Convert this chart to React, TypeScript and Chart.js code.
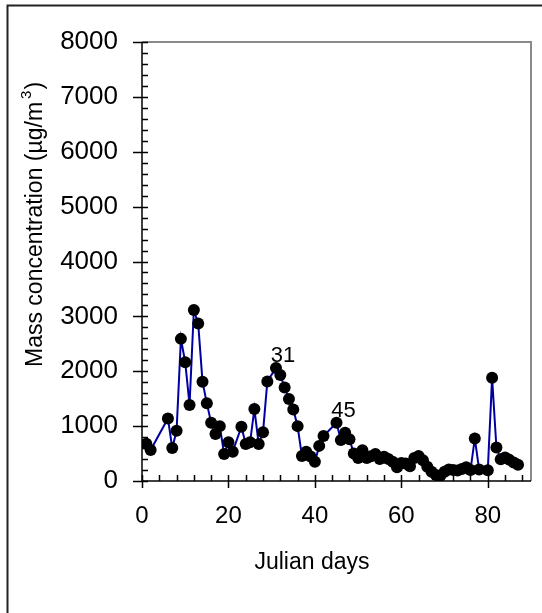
import React, { useEffect, useRef } from "react";
import { Chart, registerables } from "chart.js";

Chart.register(...registerables);

// Julian day of each sample
const days = [
  1, 2, 6, 7, 8, 9, 10, 11, 12, 13, 14, 15, 16, 17, 18, 19, 20, 21, 23, 24, 25,
  26, 27, 28, 29, 31, 32, 33, 34, 35, 36, 37, 38, 39, 40, 41, 42, 45, 46, 47, 48,
  49, 50, 51, 52, 53, 54, 55, 56, 57, 58, 59, 60, 61, 62, 63, 64, 65, 66, 67, 68,
  69, 70, 71, 72, 73, 74, 75, 76, 77, 78, 80, 81, 82, 83, 84, 85, 86, 87,
];
// Mass concentration (µg/m3)
const massConc = [
  680, 565, 1140, 600, 915, 2590, 2165, 1385, 3115, 2870, 1810, 1415, 1060, 855,
  1000, 490, 705, 535, 990, 675, 705, 1310, 675, 890, 1815, 2060, 1930, 1705,
  1495, 1305, 1000, 455, 535, 445, 350, 640, 820, 1060, 745, 880, 760, 500, 420,
  560, 420, 450, 490, 400, 440, 400, 350, 250, 330, 320, 270, 420, 455, 380, 260,
  170, 110, 90, 170, 210, 200, 190, 220, 250, 200, 775, 210, 195, 1880, 610, 395,
  430, 385, 335, 295,
];
const xTicks = [0, 20, 40, 60, 80];
const xMinorTicks = [0, 4, 8, 12, 16, 20, 24, 28, 32, 36, 40, 44, 48, 52, 56, 60, 64, 68, 72, 76, 80, 84, 88];
const yTicks = [0, 1000, 2000, 3000, 4000, 5000, 6000, 7000, 8000];
const yMinorStep = 200;
const annotatedDays = [31, 45];

const xTitle = "Julian days";
const yTitleMain = "Mass concentration (µg/m";
const yTitleSup = "3";
const yTitleEnd = ")";

const FONT = "'Liberation Sans', Arial, Helvetica, sans-serif";

const decorPlugin = {
  id: "decor",
  beforeDraw(chart: any) {
    const ctx = chart.ctx;
    ctx.save();
    ctx.strokeStyle = "#222";
    ctx.lineWidth = 2;
    ctx.beginPath();
    ctx.moveTo(7.5, chart.height);
    ctx.lineTo(7.5, 5.5);
    ctx.lineTo(chart.width, 5.5);
    ctx.stroke();
    ctx.restore();
  },
  afterDatasetsDraw(chart: any) {
    const ctx = chart.ctx;
    const xs = chart.scales.x;
    const ys = chart.scales.y;
    const { left, right, top, bottom } = chart.chartArea;
    ctx.save();
    ctx.strokeStyle = "#8a8a8a";
    ctx.lineWidth = 2;
    ctx.beginPath();
    ctx.moveTo(left, top);
    ctx.lineTo(right, top);
    ctx.lineTo(right, bottom);
    ctx.stroke();

    ctx.strokeStyle = "#000";
    ctx.lineWidth = 1.5;
    ctx.beginPath();
    for (let v = 0; v <= 8000; v += yMinorStep) {
      const y = Math.round(ys.getPixelForValue(v)) + 0.5;
      ctx.moveTo(left, y);
      ctx.lineTo(left + 6, y);
    }
    yTicks.forEach((v) => {
      const y = Math.round(ys.getPixelForValue(v)) + 0.5;
      ctx.moveTo(left - 9, y);
      ctx.lineTo(left + 6, y);
    });
    xMinorTicks.forEach((v) => {
      const x = Math.round(xs.getPixelForValue(v)) + 0.5;
      ctx.moveTo(x, bottom);
      ctx.lineTo(x, bottom - 6);
    });
    xTicks.forEach((v) => {
      const x = Math.round(xs.getPixelForValue(v)) + 0.5;
      ctx.moveTo(x, bottom - 6);
      ctx.lineTo(x, bottom + 7);
    });
    ctx.stroke();

    ctx.lineWidth = 1.5;
    ctx.beginPath();
    ctx.moveTo(left, top);
    ctx.lineTo(left, bottom);
    ctx.lineTo(right, bottom);
    ctx.stroke();

    const meta = chart.getDatasetMeta(0);
    ctx.fillStyle = "#000";
    ctx.font = `22px ${FONT}`;
    ctx.textAlign = "center";
    ctx.textBaseline = "alphabetic";
    annotatedDays.forEach((d) => {
      const i = days.indexOf(d);
      if (i < 0) return;
      const pt = meta.data[i];
      ctx.fillText(String(d), pt.x + 7, pt.y - 6);
    });

    ctx.font = `23px ${FONT}`;
    ctx.textAlign = "center";
    ctx.fillText(xTitle, 312, 569);

    ctx.translate(42, 367);
    ctx.rotate(-Math.PI / 2);
    ctx.textAlign = "left";
    ctx.font = `23px ${FONT}`;
    ctx.fillText(yTitleMain, 0, 0);
    let w = ctx.measureText(yTitleMain).width + 3;
    ctx.font = `15px ${FONT}`;
    ctx.fillText(yTitleSup, w, -11);
    w += ctx.measureText(yTitleSup).width + 1;
    ctx.font = `23px ${FONT}`;
    ctx.fillText(yTitleEnd, w, 0);
    ctx.restore();
  },
};

export default function App() {
  const ref = useRef<HTMLCanvasElement | null>(null);
  useEffect(() => {
    if (!ref.current) return;
    const chart = new Chart(ref.current, {
      type: "line",
      data: {
        datasets: [
          {
            data: days.map((d, i) => ({ x: d, y: massConc[i] })),
            borderColor: "#0000a0",
            borderWidth: 2,
            pointBackgroundColor: "#000",
            pointBorderColor: "#000",
            pointRadius: 6,
            pointBorderWidth: 0,
            tension: 0,
            fill: false,
          },
        ],
      },
      options: {
        responsive: false,
        animation: false,
        devicePixelRatio: 1,
        layout: { padding: { top: 42, right: 11, left: 0, bottom: 0 } },
        plugins: { legend: { display: false }, tooltip: { enabled: false } },
        scales: {
          x: {
            type: "linear",
            min: 0,
            max: 90,
            grid: { display: false },
            border: { display: false },
            afterBuildTicks: (s: any) => {
              s.ticks = xTicks.map((v) => ({ value: v }));
            },
            afterFit: (s: any) => {
              s.height = 132;
            },
            ticks: {
              color: "#000",
              padding: 13,
              maxRotation: 0,
              font: { family: FONT, size: 24 },
              callback: (v: any) => String(v),
            },
          },
          y: {
            type: "linear",
            min: 0,
            max: 8000,
            grid: { display: false },
            border: { display: false },
            afterBuildTicks: (s: any) => {
              s.ticks = yTicks.map((v) => ({ value: v }));
            },
            afterFit: (s: any) => {
              s.width = 142;
            },
            ticks: {
              color: "#000",
              padding: 16,
              font: { family: FONT, size: 26 },
              callback: (v: any) => String(v),
            },
          },
        },
      },
      plugins: [decorPlugin],
    });
    return () => chart.destroy();
  }, []);
  return (
    <div style={{ position: "absolute", left: 0, top: 0, width: 542, height: 613, background: "#fff" }}>
      <canvas ref={ref} width={542} height={613} style={{ display: "block" }} />
    </div>
  );
}
